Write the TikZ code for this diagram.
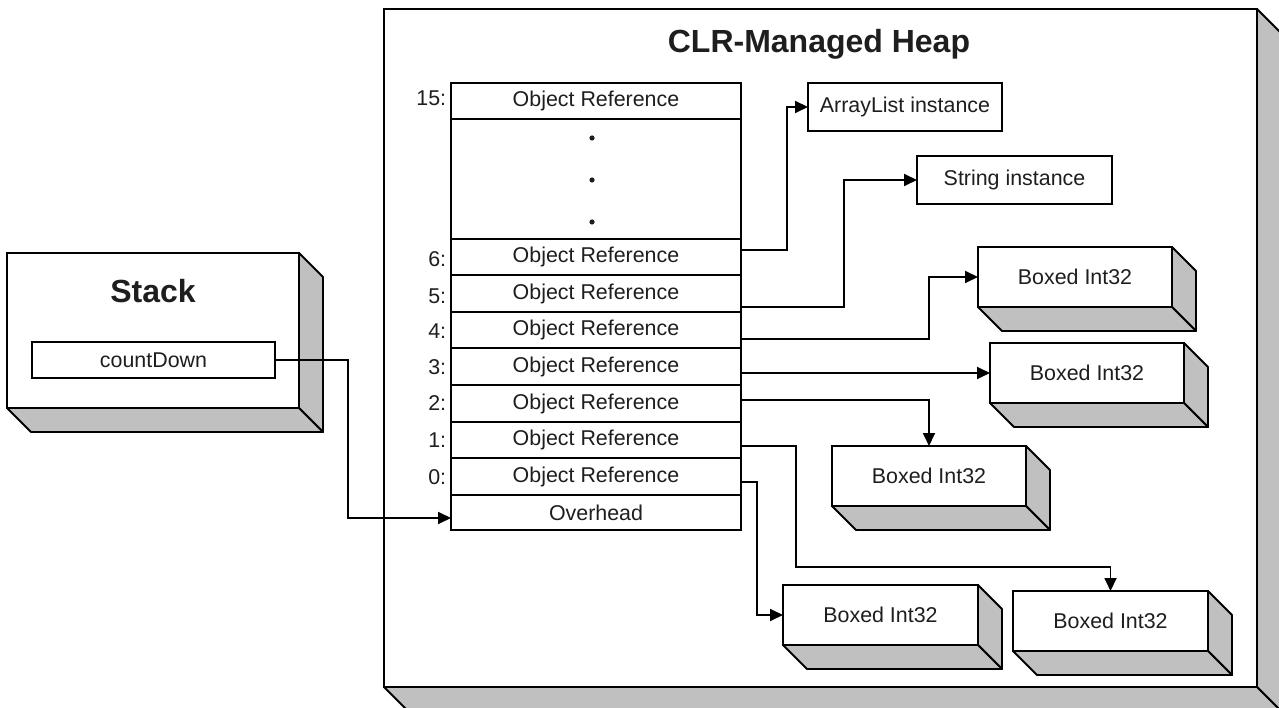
\documentclass[tikz,border=0pt]{standalone}
\usepackage{fontspec}
\setmainfont{Liberation Sans}
\usetikzlibrary{arrows.meta,calc}
\definecolor{sidegray}{RGB}{192,192,192}
\definecolor{txt}{RGB}{30,30,30}
\newcommand\threed[2][24]{%
  \filldraw[sideface] (#2.north east) -- ++(#1,#1) -- ([shift={(#1,#1)}]#2.south east) -- (#2.south east) -- cycle;
  \filldraw[sideface] (#2.south west) -- ++(#1,#1) -- ([shift={(#1,#1)}]#2.south east) -- (#2.south east) -- cycle;}
\begin{document}
\begin{tikzpicture}[x=1pt,y=-1pt,line width=1.8pt,
  box/.style={draw, fill=white, outer sep=0pt, inner sep=0pt, text=txt, font=\fontsize{21.4}{25}\selectfont},
  sideface/.style={draw, fill=sidegray, line join=round},
  arr/.style={draw, -{Triangle[length=13pt,width=12pt]}},
  lbl/.style={anchor=east, inner sep=0pt, text=txt, font=\fontsize{21.4}{25}\selectfont},
  ttl/.style={anchor=base, inner sep=0pt, text=txt, font=\fontsize{32}{38}\selectfont\bfseries}]
\useasboundingbox (0,0) rectangle (1279,708);
\fill[white] (0,0) rectangle (1279,708);
\clip (0,0) rectangle (1279,708);

% heap
\node[box, line width=2.2pt, minimum width=873pt, minimum height=678pt] (heap) at (820.5,348) {};
\threed{heap}
\node[ttl] (heaptitle) at (819,53) {CLR-Managed Heap};

% stack
\node[box, minimum width=292pt, minimum height=155pt] (stack) at (153,330.5) {};
\threed{stack}
\node[ttl] (stacktitle) at (153,303) {Stack};
\node[box, minimum width=243pt, minimum height=36pt] (cd) at (153.5,360) {countDown};

% array
\node[box, minimum width=290pt, minimum height=36pt] (r15) at (596,101) {Object Reference};
\node[box, minimum width=290pt, minimum height=120pt] (rdots) at (596,179) {};
\fill[txt] (592,138) circle[radius=2.6pt];
\fill[txt] (592,180) circle[radius=2.6pt];
\fill[txt] (592,222) circle[radius=2.6pt];
\node[box, minimum width=290pt, minimum height=36pt] (r6) at (596,257) {Object Reference};
\node[box, minimum width=290pt, minimum height=37pt] (r5) at (596,293.5) {Object Reference};
\node[box, minimum width=290pt, minimum height=36pt] (r4) at (596,330) {Object Reference};
\node[box, minimum width=290pt, minimum height=37pt] (r3) at (596,366.5) {Object Reference};
\node[box, minimum width=290pt, minimum height=37pt] (r2) at (596,403.5) {Object Reference};
\node[box, minimum width=290pt, minimum height=36pt] (r1) at (596,440) {Object Reference};
\node[box, minimum width=290pt, minimum height=37pt] (r0) at (596,476.5) {Object Reference};
\node[box, minimum width=290pt, minimum height=35pt] (ov) at (596,512.5) {Overhead};

\node[lbl] (l15) at (447,98) {15:};
\node[lbl] (l6) at (447,259) {6:};
\node[lbl] (l5) at (447,296) {5:};
\node[lbl] (l4) at (447,331) {4:};
\node[lbl] (l3) at (447,367) {3:};
\node[lbl] (l2) at (447,403) {2:};
\node[lbl] (l1) at (447,440) {1:};
\node[lbl] (l0) at (447,477) {0:};

% targets
\node[box, minimum width=194pt, minimum height=48pt] (al) at (905,107) {ArrayList instance};
\node[box, minimum width=195pt, minimum height=48pt] (str) at (1014.5,180) {String instance};
\node[box, minimum width=194pt, minimum height=60pt] (b1) at (1075,277) {Boxed Int32};
\threed{b1}
\node[box, minimum width=194pt, minimum height=60pt] (b2) at (1087,373) {Boxed Int32};
\threed{b2}
\node[box, minimum width=194pt, minimum height=60pt] (b3) at (929,476) {Boxed Int32};
\threed{b3}
\node[box, minimum width=195pt, minimum height=60pt] (b4) at (880.5,615) {Boxed Int32};
\threed{b4}
\node[box, minimum width=195pt, minimum height=60pt] (b5) at (1110.5,621) {Boxed Int32};
\threed{b5}

% connectors
\draw[arr] ([yshift=7pt]r6.east) -- ++(46,0) |- (al.west);
\draw[arr] ([yshift=-13.5pt]r5.east) -- ++(103,0) |- (str.west);
\draw[arr] ([yshift=-9pt]r4.east) -- ++(188,0) |- (b1.west);
\draw[arr] (r3.east |- b2.west) -- (b2.west);
\draw[arr] ([yshift=3.5pt]r2.east) -| (b3.north);
\draw[arr] ([yshift=-6pt]r1.east) -- ++(55,0) -- ++(0,121) -| (b5.north);
\draw[arr] ([yshift=-5.5pt]r0.east) -- ++(16,0) |- (b4.west);
\draw[arr] (cd.east) -- ++(73,0) |- ([yshift=-5.5pt]ov.west);
\end{tikzpicture}
\end{document}
